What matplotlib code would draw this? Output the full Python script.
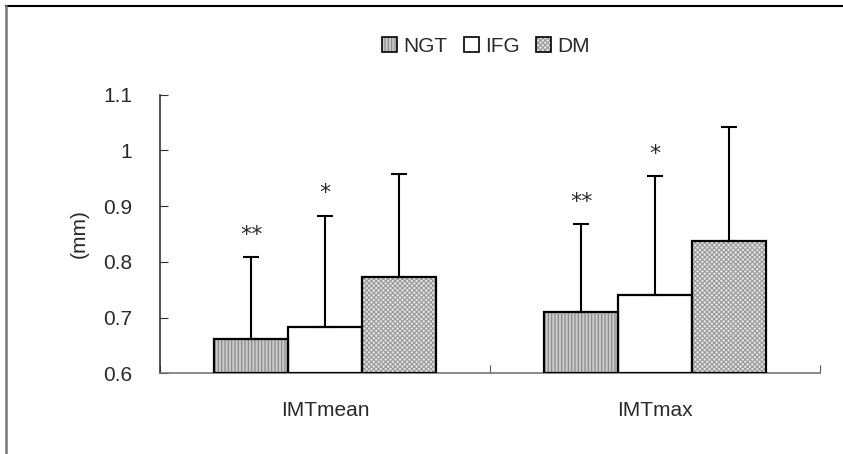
import matplotlib
matplotlib.use("Agg")
import matplotlib.pyplot as plt
import numpy as np
from matplotlib.patches import Patch
from matplotlib.lines import Line2D

categories = ["IMTmean", "IMTmax"]
groups = ["NGT", "IFG", "DM"]
means = {
    "NGT": [0.662, 0.710],
    "IFG": [0.683, 0.740],
    "DM": [0.772, 0.838],
}
sds = {
    "NGT": [0.146, 0.158],
    "IFG": [0.200, 0.214],
    "DM": [0.185, 0.204],
}
stars = {"NGT": ["**", "**"], "IFG": ["*", "*"], "DM": ["", ""]}
yticks = [0.6, 0.7, 0.8, 0.9, 1.0, 1.1]
ytick_labels = ["0.6", "0.7", "0.8", "0.9", "1", "1.1"]

styles = {
    "NGT": dict(face="#c8c8c8", hatch="|||||", hcolor="#888888"),
    "IFG": dict(face="white", hatch=None, hcolor="white"),
    "DM": dict(face="#e4e4e4", hatch="xxxxxxx", hcolor="#9a9a9a"),
}

plt.rcParams["font.family"] = ["Liberation Sans", "DejaVu Sans"]
plt.rcParams["hatch.linewidth"] = 0.8
FS = 15
TC = "#2a2a2a"

W, H = 843, 454
fig = plt.figure(figsize=(W / 100, H / 100), dpi=100)
ax = fig.add_axes([160 / W, 1 - 373.3 / H, 660 / W, (373.3 - 94.7) / H])

bw = 0.224
x = np.arange(len(categories))
handles = []
for i, g in enumerate(groups):
    st = styles[g]
    xs = x + (i - 1) * bw
    m = np.array(means[g])
    ax.bar(xs, m - 0.6, bottom=0.6, width=bw, color=st["face"],
           hatch=st["hatch"], edgecolor=st["hcolor"], linewidth=0, zorder=2)
    ax.bar(xs, m - 0.6, bottom=0.6, width=bw, fill=False,
           edgecolor="black", linewidth=1.6, zorder=3)
    s = np.array(sds[g])
    ax.errorbar(xs, m, yerr=[np.zeros_like(s), s], fmt="none", ecolor="black",
                elinewidth=1.5, capsize=6, capthick=1.5, zorder=4)
    for xi, mi, si, lab in zip(xs, m, s, stars[g]):
        if lab:
            ax.text(xi, mi + si + 0.022, lab, ha="center", va="bottom",
                    fontsize=16, color=TC, family="DejaVu Sans")
    h1 = Patch(facecolor=st["face"], hatch=st["hatch"], edgecolor=st["hcolor"], linewidth=0)
    h2 = Patch(fill=False, edgecolor="black", linewidth=1.2)
    handles.append((h1, h2))

ax.set_ylim(0.6, 1.1)
ax.set_xlim(-0.5, 1.5)
ax.set_yticks(yticks)
ax.set_yticklabels(ytick_labels)
ax.set_xticks([-0.5, 0.5, 1.5])
ax.set_xticklabels([])
ax.set_xticks(x, minor=True)
ax.set_xticklabels(categories, minor=True)
ax.tick_params(axis="x", which="minor", length=0, pad=20, labelsize=FS, labelcolor=TC)
ax.tick_params(axis="x", which="major", direction="in", length=6, color="#555555")
ax.tick_params(axis="y", direction="in", length=6, color="#333333", pad=20,
               labelsize=FS, labelcolor=TC)
for sp in ["top", "right"]:
    ax.spines[sp].set_visible(False)
ax.spines["left"].set_color("#333333")
ax.spines["bottom"].set_color("#777777")
ax.spines["left"].set_linewidth(1.2)
ax.spines["bottom"].set_linewidth(1.2)
ax.set_ylabel("(mm)", fontsize=FS, labelpad=10, color=TC)

leg = fig.legend(handles, groups, loc="center", bbox_to_anchor=(486 / W, 1 - 46 / H),
                 ncol=3, frameon=False, fontsize=FS, handlelength=0.7, handleheight=0.7,
                 handletextpad=0.3, columnspacing=0.8)
for t in leg.get_texts():
    t.set_color(TC)

fig.add_artist(Line2D([6 / W, 1], [1 - 6 / H, 1 - 6 / H], color="black", linewidth=1.5))
fig.add_artist(Line2D([6 / W, 6 / W], [0, 1 - 6 / H], color="#777777", linewidth=1.8))

fig.savefig("out.png", dpi=100)
